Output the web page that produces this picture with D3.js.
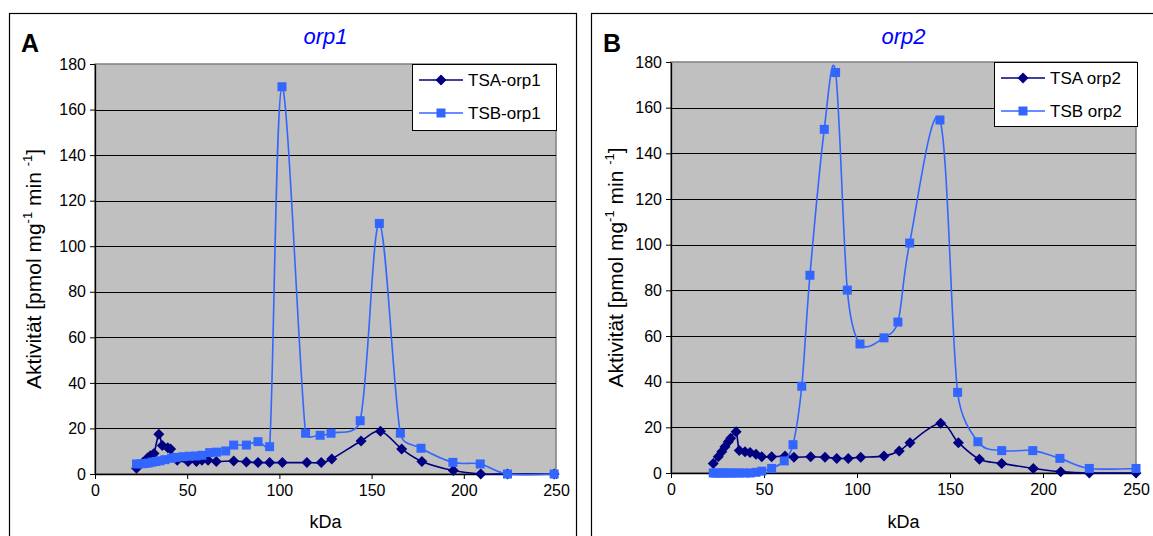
<!DOCTYPE html>
<html><head><meta charset="utf-8">
<script src="https://cdn.jsdelivr.net/npm/d3@7"></script>
<style>body{margin:0;background:#fff}svg{display:block}text{font-family:"Liberation Sans",Arial,sans-serif}</style>
</head><body>
<svg id="c" width="1153" height="536"></svg>
<script>
// ---- data ----
const xTicks = [0, 50, 100, 150, 200, 250];
const yTicks = [0, 20, 40, 60, 80, 100, 120, 140, 160, 180];

const tsaOrp1X = [22.5,26,28.5,30,32,34.6,36.5,39.5,41,44.6,50.5,55,58,61.3,65.8,75.2,82.1,88.4,94.7,101.6,114.9,122.7,128.4,144.3,154.8,166.3,177.3,194.3,209.2,223.7,249];
const tsaOrp1Y = [2.5,5,7,8,9,17.5,12.5,11.5,11,6,5.5,5.5,6,6,5.5,5.7,5.3,5,5,5,5,5,6.6,14.5,18.8,11,5.5,1.5,0,0,0];
const tsbOrp1X = [22.5,25,27,28.9,31,33,35.2,38,41.5,44,47.8,51,54.7,58,62.2,66,70.9,75.2,82.1,88.4,94.7,101.4,114.2,122.1,128,143.8,154.2,165.6,176.8,194.1,208.9,223.7,249];
const tsbOrp1Y = [4.4,4.5,4.6,4.8,5.2,5.5,5.8,6.3,6.9,7.3,7.6,7.8,7.9,8.2,9.4,9.6,10.1,12.7,12.7,14.2,12,170,17.9,17,17.9,23.4,110,17.9,11.3,5.1,4.4,0,0];

const tsaOrp2X = [22.7,25.4,27.3,29,30.8,32.1,35,36.7,39.8,42.5,45.7,48.8,54.1,61.3,66.1,75.1,82.8,89.1,95.3,102,114.5,122.7,128.5,145,154.5,165.8,177.8,194.8,209.5,224.9,250];
const tsaOrp2Y = [4.2,7.1,9.3,11.5,13.7,15.2,18.1,9.8,9.3,9.0,8.2,7.1,7.1,7.4,6.9,7.1,6.9,6.4,6.4,6.9,7.4,9.6,13.3,21.8,13.3,6,4.2,2.0,0.6,0,0];
const tsbOrp2X = [22.7,24,25.4,27.3,29,30.8,32.1,35,36.7,39.8,42.5,45.7,48.8,54.1,60.9,65.6,70.3,74.7,82.4,88.5,94.8,101.6,114.5,122,128.3,144.6,154.1,165,177.8,194.5,209.1,224.9,250];
const tsbOrp2Y = [0,0,0,0,0,0,0,0,0,0,0,0.3,0.8,2,5.3,12.4,38,86.6,150.5,175.4,80.1,56.5,59.2,66.1,100.7,154.6,35.3,13.7,9.8,9.8,6.4,2.0,2.0];

const panels = [
  {letter:"A", title:"orp1", box:[9,13,576,560], px:[95,556], py:[474,64], leg:[412,64,556,130],
   series:[{name:"TSA-orp1", x:tsaOrp1X, y:tsaOrp1Y, color:"#000080", m:"d"},
           {name:"TSB-orp1", x:tsbOrp1X, y:tsbOrp1Y, color:"#3366FF", m:"s"}]},
  {letter:"B", title:"orp2", box:[591,13,1170,560], px:[671,1136], py:[473,62], leg:[994,62,1137,126],
   series:[{name:"TSA orp2", x:tsaOrp2X, y:tsaOrp2Y, color:"#000080", m:"d"},
           {name:"TSB orp2", x:tsbOrp2X, y:tsbOrp2Y, color:"#3366FF", m:"s"}]}
];

// spreadsheet-style smoothing: Bezier with (P[i+1]-P[i-1])/6 tangents, arm length capped at half the segment
function SmoothCurve(context){ this._context = context; }
SmoothCurve.prototype = {
  areaStart(){}, areaEnd(){},
  lineStart(){ this._pts = []; },
  point(x,y){ this._pts.push([+x,+y]); },
  lineEnd(){
    const P = this._pts, c = this._context, n = P.length;
    if(!n) return;
    c.moveTo(P[0][0],P[0][1]);
    if(n===1) return;
    const T = P.map((p,i)=>{const a=P[Math.max(0,i-1)], b=P[Math.min(n-1,i+1)]; return [(b[0]-a[0])/6,(b[1]-a[1])/6];});
    for(let i=0;i<n-1;i++){
      const a=P[i], b=P[i+1];
      const d=Math.hypot(b[0]-a[0],b[1]-a[1]);
      const cap=t=>{const L=Math.hypot(t[0],t[1]); const s=(L>d/2&&L>0)?d/2/L:1; return [t[0]*s,t[1]*s];};
      const t1=cap(T[i]), t2=cap(T[i+1]);
      c.bezierCurveTo(a[0]+t1[0],a[1]+t1[1],b[0]-t2[0],b[1]-t2[1],b[0],b[1]);
    }
  }
};
const smoothCurve = ctx => new SmoothCurve(ctx);

const svg = d3.select("#c");

function marker(g, kind, cx, cy, color){
  if(kind==="d"){
    g.append("path").attr("d",`M${cx},${cy-5.5}L${cx+5.5},${cy}L${cx},${cy+5.5}L${cx-5.5},${cy}Z`).attr("fill",color);
  } else {
    g.append("rect").attr("x",cx-4.5).attr("y",cy-4.5).attr("width",9).attr("height",9).attr("fill",color);
  }
}

panels.forEach(p=>{
  const g = svg.append("g");
  g.append("rect").attr("x",p.box[0]+0.5).attr("y",p.box[1]+0.5).attr("width",p.box[2]-p.box[0]).attr("height",p.box[3]-p.box[1])
    .attr("fill","#fff").attr("stroke","#000").attr("stroke-width",1.2);
  const x = d3.scaleLinear().domain([0,250]).range(p.px);
  const y = d3.scaleLinear().domain([0,180]).range(p.py);
  // plot area
  g.append("rect").attr("x",p.px[0]).attr("y",p.py[1]).attr("width",p.px[1]-p.px[0]).attr("height",p.py[0]-p.py[1])
    .attr("fill","#C0C0C0").attr("stroke","#808080").attr("stroke-width",1.5);
  // gridlines
  g.append("g").selectAll("line").data(yTicks.filter(v=>v>0&&v<180)).join("line")
    .attr("x1",p.px[0]).attr("x2",p.px[1]).attr("y1",d=>Math.round(y(d))+0.5).attr("y2",d=>Math.round(y(d))+0.5)
    .attr("stroke","#000").attr("stroke-width",1);
  // axes
  const ya = g.append("g").attr("transform",`translate(${p.px[0]},0)`)
    .call(d3.axisLeft(y).tickValues(yTicks).tickSize(5).tickPadding(4).tickSizeOuter(0));
  const xa = g.append("g").attr("transform",`translate(0,${p.py[0]})`)
    .call(d3.axisBottom(x).tickValues(xTicks).tickSize(5).tickPadding(6).tickSizeOuter(0));
  [ya,xa].forEach(a=>{
    a.selectAll("text").attr("font-size",16).attr("fill","#000").attr("font-family","Liberation Sans, Arial, sans-serif");
    a.selectAll("line").attr("stroke","#000");
    a.select(".domain").attr("stroke","#000").attr("stroke-width",1.3);
  });
  // series
  p.series.forEach(s=>{
    const pts = s.x.map((v,i)=>[x(v), y(s.y[i])]);
    g.append("path").attr("d", d3.line().curve(smoothCurve)(pts))
      .attr("fill","none").attr("stroke",s.color).attr("stroke-width",1.6);
    const mg = g.append("g");
    pts.forEach(pt=>marker(mg, s.m, pt[0], pt[1], s.color));
  });
  // legend
  const L = p.leg;
  g.append("rect").attr("x",L[0]+0.5).attr("y",L[1]+0.5).attr("width",L[2]-L[0]).attr("height",L[3]-L[1])
    .attr("fill","#fff").attr("stroke","#000").attr("stroke-width",1);
  p.series.forEach((s,i)=>{
    const cy = L[1] + 16 + i*33;
    g.append("line").attr("x1",L[0]+7).attr("x2",L[0]+51).attr("y1",cy).attr("y2",cy).attr("stroke",s.color).attr("stroke-width",1.6);
    marker(g, s.m, L[0]+29, cy, s.color);
    g.append("text").attr("x",L[0]+56).attr("y",cy+6).attr("font-size",17).text(s.name);
  });
  // titles
  g.append("text").attr("x",p.box[0]+12).attr("y",52).attr("font-size",25).attr("font-weight","bold").text(p.letter);
  g.append("text").attr("x",(p.px[0]+p.px[1])/2).attr("y",44).attr("text-anchor","middle").attr("font-size",22)
    .attr("font-style","italic").attr("fill","#0000FF").text(p.title);
  g.append("text").attr("x",(p.px[0]+p.px[1])/2).attr("y",528).attr("text-anchor","middle").attr("font-size",18).text("kDa");
  const yl = g.append("text").attr("transform",`translate(${p.box[0]+32},${(p.py[0]+p.py[1])/2}) rotate(-90)`)
    .attr("text-anchor","middle").attr("font-size",21);
  yl.append("tspan").text("Aktivität [pmol mg");
  yl.append("tspan").attr("dy",-9).attr("font-size",13).text("-1");
  yl.append("tspan").attr("dy",9).text(" min ");
  yl.append("tspan").attr("dy",-9).attr("font-size",13).text("-1");
  yl.append("tspan").attr("dy",9).text("]");
});
</script>
</body></html>
